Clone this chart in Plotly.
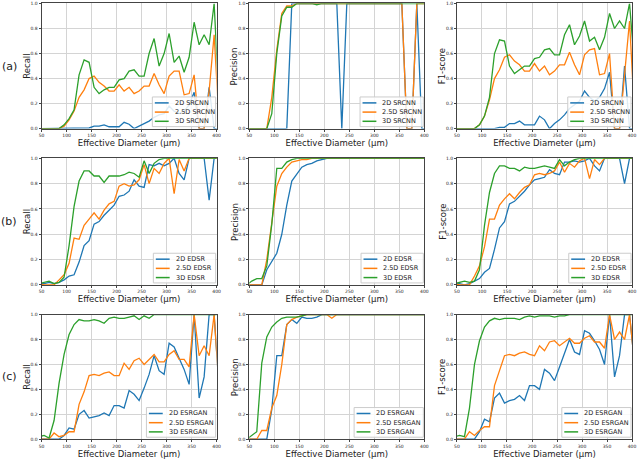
import plotly.graph_objects as go

# bin centres (um)
diam = [45, 55, 65, 75, 85, 95, 105, 115, 125, 135, 145, 155, 165, 175, 185, 195, 205, 215, 225,
        235, 245, 255, 265, 275, 285, 295, 305, 315, 325, 335, 345, 355, 365, 375, 385, 395, 405]

models = ["SRCNN", "EDSR", "ESRGAN"]
metrics = ["Recall", "Precision", "F1-score"]
dims = ["2D", "2.5D", "3D"]
row_tags = ["(a)", "(b)", "(c)"]

# ---- SRCNN
srcnn_recall_2d = [0, 0, 0, 0, 0, 0, 0, 0, 0, 0.005, 0.005, 0.02, 0.02, 0.03, 0.015, 0.015, 0.015, 0.05, 0.035,
                   0.0, 0.02, 0.035, 0.06, 0.09, 0.11, 0.12, 0.18, 0.14, 0.12, 0.14, 0.19, 0.29, 0.0, 0.0, 0.33, 0.0, 0.0]
srcnn_recall_25d = [0, 0, 0, 0, 0, 0.02, 0.07, 0.14, 0.25, 0.31, 0.40, 0.42, 0.37, 0.34, 0.30, 0.30, 0.35, 0.30, 0.33,
                    0.28, 0.30, 0.34, 0.34, 0.44, 0.35, 0.28, 0.42, 0.46, 0.46, 0.27, 0.28, 0.43, 0.0, 0.0, 0.3, 0.75, 0.05]
srcnn_recall_3d = [0, 0, 0, 0, 0, 0.03, 0.08, 0.15, 0.43, 0.55, 0.53, 0.33, 0.28, 0.31, 0.33, 0.33, 0.39, 0.40, 0.46,
                   0.47, 0.42, 0.42, 0.60, 0.72, 0.50, 0.60, 0.76, 0.53, 0.58, 0.45, 0.57, 0.85, 0.67, 0.75, 0.67, 1.0, 0.2]

srcnn_prec_2d = [0, 0, 0, 0, 0, 0, 0, 0, 0, 1, 1, 1, 1, 1, 1, 1, 1, 1, 1,
                 0, 1, 1, 1, 1, 1, 1, 1, 1, 1, 1, 1, 1, 0, 0, 1, 0, 0]
srcnn_prec_25d = [0, 0, 0, 0, 0, 0.25, 0.63, 0.92, 0.98, 0.98, 1, 1, 1, 1, 1, 1, 1, 1, 1,
                  1, 1, 1, 1, 1, 1, 1, 1, 1, 1, 1, 1, 1, 0, 0, 1, 1, 1]
srcnn_prec_3d = [0, 0, 0, 0, 0, 0.12, 0.6, 0.9, 0.97, 0.97, 1, 1, 1, 1, 0.99, 1, 1, 1, 1,
                 1, 1, 1, 1, 1, 1, 1, 1, 1, 1, 1, 1, 1, 1, 1, 1, 1, 1]

srcnn_f1_2d = [0, 0, 0, 0, 0, 0, 0, 0, 0, 0.01, 0.01, 0.04, 0.04, 0.06, 0.03, 0.03, 0.03, 0.10, 0.07,
               0.0, 0.04, 0.07, 0.11, 0.16, 0.19, 0.22, 0.30, 0.25, 0.22, 0.25, 0.32, 0.45, 0.0, 0.0, 0.5, 0.0, 0.0]
srcnn_f1_25d = [0, 0, 0, 0, 0, 0.03, 0.1, 0.23, 0.40, 0.47, 0.57, 0.59, 0.54, 0.51, 0.46, 0.46, 0.52, 0.46, 0.50,
                0.43, 0.46, 0.51, 0.51, 0.61, 0.51, 0.43, 0.59, 0.63, 0.64, 0.43, 0.44, 0.60, 0.0, 0.0, 0.46, 0.86, 0.1]
srcnn_f1_3d = [0, 0, 0, 0, 0, 0.03, 0.1, 0.25, 0.6, 0.71, 0.70, 0.50, 0.44, 0.47, 0.50, 0.50, 0.56, 0.57, 0.63,
               0.64, 0.59, 0.59, 0.75, 0.83, 0.67, 0.74, 0.86, 0.70, 0.73, 0.63, 0.73, 0.92, 0.80, 0.86, 0.80, 1.0, 0.5]

# ---- EDSR
edsr_recall_2d = [0.01, 0.01, 0.02, 0.01, 0.02, 0.04, 0.07, 0.08, 0.18, 0.31, 0.35, 0.48, 0.5, 0.55, 0.59, 0.63, 0.70, 0.71, 0.74,
                  0.83, 0.78, 0.77, 0.95, 0.94, 0.96, 0.94, 0.96, 1.0, 0.88, 0.83, 1, 1, 1, 1, 0.67, 1, 1]
edsr_recall_25d = [0.01, 0.0, 0.0, 0.0, 0.04, 0.08, 0.17, 0.37, 0.36, 0.47, 0.52, 0.57, 0.52, 0.59, 0.64, 0.66, 0.78, 0.80, 0.78,
                   0.79, 0.83, 0.95, 0.80, 0.92, 0.88, 0.96, 1.0, 0.72, 0.99, 0.9, 1, 1, 1, 1, 1, 1, 1]
edsr_recall_3d = [0.01, 0.02, 0.03, 0.01, 0.02, 0.06, 0.31, 0.62, 0.82, 0.9, 0.9, 0.86, 0.86, 0.81, 0.86, 0.86, 0.86, 0.87, 0.89,
                  0.88, 0.85, 0.98, 0.88, 0.96, 0.99, 1, 1, 1, 1, 1, 1, 1, 1, 1, 1, 1, 1]

edsr_prec_2d = [0, 0, 0, 0, 0.12, 0.18, 0.25, 0.4, 0.63, 0.82, 0.88, 0.93, 0.95, 0.96, 0.98, 0.99, 1, 1, 1,
                1, 1, 1, 1, 1, 1, 1, 1, 1, 1, 1, 1, 1, 1, 1, 1, 1, 1]
edsr_prec_25d = [0, 0, 0, 0, 0.2, 0.5, 0.78, 0.88, 0.93, 0.97, 0.98, 0.99, 0.99, 1, 1, 1, 1, 1, 1,
                 1, 1, 1, 1, 1, 1, 1, 1, 1, 1, 1, 1, 1, 1, 1, 1, 1, 1]
edsr_prec_3d = [0.0, 0.03, 0.05, 0.05, 0.15, 0.48, 0.92, 0.92, 0.97, 0.99, 1, 1, 1, 1, 1, 1, 1, 1, 1,
                1, 1, 1, 1, 1, 1, 1, 1, 1, 1, 1, 1, 1, 1, 1, 1, 1, 1]

edsr_f1_2d = [0.01, 0.01, 0.0, 0.01, 0.03, 0.05, 0.1, 0.13, 0.28, 0.45, 0.5, 0.64, 0.66, 0.7, 0.74, 0.79, 0.83, 0.84, 0.85,
              0.91, 0.88, 0.87, 0.97, 0.97, 0.98, 0.97, 0.98, 1.0, 0.94, 0.9, 1, 1, 1, 1, 0.8, 1, 1]
edsr_f1_25d = [0.01, 0.0, 0.0, 0.0, 0.07, 0.15, 0.3, 0.52, 0.52, 0.63, 0.68, 0.72, 0.68, 0.73, 0.77, 0.79, 0.87, 0.88, 0.87,
               0.88, 0.9, 0.97, 0.89, 0.96, 0.93, 0.98, 1.0, 0.84, 0.99, 0.95, 1, 1, 1, 1, 1, 1, 1]
edsr_f1_3d = [0.01, 0.02, 0.03, 0.02, 0.03, 0.12, 0.47, 0.73, 0.88, 0.94, 0.94, 0.92, 0.92, 0.9, 0.93, 0.92, 0.92, 0.93, 0.94,
              0.93, 0.92, 0.99, 0.94, 0.97, 0.99, 1, 1, 1, 1, 1, 1, 1, 1, 1, 1, 1, 1]

# ---- ESRGAN
esrgan_recall_2d = [0, 0, 0, 0, 0, 0.03, 0.09, 0.08, 0.2, 0.23, 0.17, 0.18, 0.19, 0.21, 0.19, 0.27, 0.27, 0.25, 0.39,
                    0.36, 0.31, 0.41, 0.52, 0.67, 0.55, 0.52, 0.77, 0.74, 0.65, 0.56, 0.44, 1.0, 0.33, 0.5, 1.0, 1.0, 0.4]
esrgan_recall_25d = [0, 0, 0, 0.05, 0.02, 0.03, 0.06, 0.06, 0.28, 0.38, 0.51, 0.52, 0.51, 0.53, 0.54, 0.51, 0.51, 0.61, 0.56,
                     0.63, 0.65, 0.6, 0.64, 0.68, 0.62, 0.62, 0.68, 0.71, 0.64, 0.64, 0.58, 1.0, 0.67, 0.75, 0.67, 1.0, 0.4]
esrgan_recall_3d = [0.02, 0.03, 0.01, 0.15, 0.45, 0.68, 0.84, 0.92, 0.96, 0.95, 0.95, 0.96, 0.95, 0.93, 0.97, 0.98, 0.97, 0.97, 0.98,
                    0.99, 0.96, 0.99, 0.97, 1, 1, 1, 1, 1, 1, 1, 1, 1, 1, 1, 1, 1, 1]

esrgan_prec_2d = [0, 0, 0, 0, 0, 0.24, 0.67, 0.67, 0.92, 0.96, 0.93, 0.98, 0.97, 0.97, 0.98, 1, 1, 1, 1,
                  1, 1, 1, 1, 1, 1, 1, 1, 1, 1, 1, 1, 1, 1, 1, 1, 1, 1]
esrgan_prec_25d = [0, 0, 0, 0.07, 0.07, 0.25, 0.35, 0.6, 0.92, 0.96, 0.98, 0.99, 1, 1, 1, 1, 1, 0.97, 1,
                   1, 1, 1, 1, 1, 1, 1, 1, 1, 1, 1, 1, 1, 1, 1, 1, 1, 1]
esrgan_prec_3d = [0.0, 0.03, 0.06, 0.61, 0.82, 0.9, 0.94, 0.97, 0.98, 0.98, 0.98, 0.99, 1, 1, 1, 1, 1, 1, 1,
                  1, 1, 1, 1, 1, 1, 1, 1, 1, 1, 1, 1, 1, 1, 1, 1, 1, 1]

esrgan_f1_2d = [0, 0, 0, 0, 0, 0.06, 0.16, 0.14, 0.33, 0.37, 0.29, 0.31, 0.32, 0.35, 0.31, 0.43, 0.43, 0.4, 0.56,
                0.53, 0.47, 0.58, 0.69, 0.8, 0.7, 0.68, 0.87, 0.85, 0.79, 0.72, 0.6, 1.0, 0.5, 0.67, 1.0, 1.0, 0.6]
esrgan_f1_25d = [0, 0, 0, 0.06, 0.03, 0.07, 0.1, 0.1, 0.43, 0.55, 0.67, 0.68, 0.67, 0.69, 0.7, 0.68, 0.67, 0.75, 0.71,
                 0.78, 0.79, 0.75, 0.78, 0.81, 0.77, 0.77, 0.81, 0.83, 0.78, 0.78, 0.73, 1.0, 0.8, 0.86, 0.8, 1.0, 0.6]
esrgan_f1_3d = [0.02, 0.03, 0.02, 0.25, 0.6, 0.79, 0.9, 0.95, 0.97, 0.96, 0.97, 0.97, 0.97, 0.96, 0.98, 0.99, 0.98, 0.99, 0.99,
                0.99, 0.98, 0.99, 0.99, 1, 1, 1, 1, 1, 1, 1, 1, 1, 1, 1, 1, 1, 1]

data = {
    "SRCNN": [[srcnn_recall_2d, srcnn_recall_25d, srcnn_recall_3d],
              [srcnn_prec_2d, srcnn_prec_25d, srcnn_prec_3d],
              [srcnn_f1_2d, srcnn_f1_25d, srcnn_f1_3d]],
    "EDSR": [[edsr_recall_2d, edsr_recall_25d, edsr_recall_3d],
             [edsr_prec_2d, edsr_prec_25d, edsr_prec_3d],
             [edsr_f1_2d, edsr_f1_25d, edsr_f1_3d]],
    "ESRGAN": [[esrgan_recall_2d, esrgan_recall_25d, esrgan_recall_3d],
               [esrgan_prec_2d, esrgan_prec_25d, esrgan_prec_3d],
               [esrgan_f1_2d, esrgan_f1_25d, esrgan_f1_3d]],
}

colors = ["#1f77b4", "#ff7f0e", "#2ca02c"]
W, H = 640, 461
col_px = [(39, 216), (249, 426), (459, 636)]
row_px = [(1.5, 128), (158, 286), (316, 442)]
legend_w = {"SRCNN": 64, "EDSR": 63, "ESRGAN": 70}
FONT = "DejaVu Sans"


def px(xp, yp):
    return xp / W, 1 - yp / H


fig = go.Figure()
layout = {}
shapes = []
annots = []
for r, model in enumerate(models):
    for c, metric in enumerate(metrics):
        n = r * 3 + c + 1
        sfx = "" if n == 1 else str(n)
        for k, d in enumerate(dims):
            fig.add_trace(go.Scatter(
                x=diam, y=data[model][c][k], mode="lines",
                line=dict(color=colors[k], width=1.3),
                name=d + " " + model, xaxis="x" + sfx, yaxis="y" + sfx,
                showlegend=False))
        x0, x1 = col_px[c]
        y0, y1 = row_px[r]
        layout["xaxis" + sfx] = dict(
            domain=[x0 / W, x1 / W], anchor="y" + sfx, range=[50, 400],
            tickvals=[50, 100, 150, 200, 250, 300, 350, 400],
            tickfont=dict(size=4.5, color="#222"), ticks="outside", ticklen=2,
            tickcolor="#444", showgrid=True, gridcolor="#d4d4d4", gridwidth=1,
            showline=True, linecolor="#444", linewidth=1, mirror=True, zeroline=False,
            title=dict(text="Effective Diameter (\u03bcm)", font=dict(size=8.5, color="#222"), standoff=2))
        layout["yaxis" + sfx] = dict(
            domain=[1 - y1 / H, 1 - y0 / H], anchor="x" + sfx, range=[0, 1],
            tickvals=[0, 0.2, 0.4, 0.6, 0.8, 1.0], tickformat=".1f",
            tickfont=dict(size=4.5, color="#222"), ticks="outside", ticklen=2,
            tickcolor="#444", showgrid=True, gridcolor="#d4d4d4", gridwidth=1,
            showline=True, linecolor="#444", linewidth=1, mirror=True, zeroline=False)

        # y title placed by hand (plotly pushes it too far left)
        tx, ty = px(x0 - 15, (y0 + y1) / 2)
        annots.append(dict(text=metric, x=tx, y=ty, xref="paper", yref="paper", textangle=-90,
                           xanchor="center", yanchor="middle", showarrow=False,
                           font=dict(size=8.5, color="#222", family=FONT)))

        # compact matplotlib-style legend, lower right
        lr = x1 - 1
        lb = y1 - 2
        lt = lb - 30
        ll = lr - legend_w[model]
        ax0, ay0 = px(ll, lt)
        ax1, ay1 = px(lr, lb)
        shapes.append(dict(type="rect", xref="paper", yref="paper", x0=ax0, x1=ax1, y0=ay1, y1=ay0,
                           fillcolor="rgba(255,255,255,0.85)", line=dict(color="#cccccc", width=1),
                           layer="above"))
        for k, d in enumerate(dims):
            yy = lt + 6 + k * 9.3
            sx0, sy = px(ll + 2.5, yy)
            sx1, _ = px(ll + 16.5, yy)
            shapes.append(dict(type="line", xref="paper", yref="paper", x0=sx0, x1=sx1, y0=sy, y1=sy,
                               line=dict(color=colors[k], width=1.5), layer="above"))
            lx, _ = px(ll + 20.5, yy)
            annots.append(dict(text=d + " " + model, x=lx, y=sy, xref="paper", yref="paper",
                               xanchor="left", yanchor="middle", showarrow=False,
                               font=dict(size=6.5, color="#222", family=FONT)))

for r, tag in enumerate(row_tags):
    y0, y1 = row_px[r]
    ax, ay = px(6.5, (y0 + y1) / 2)
    annots.append(dict(text=tag, x=ax, y=ay, xref="paper", yref="paper", showarrow=False,
                       xanchor="center", yanchor="middle",
                       font=dict(size=11, color="#222", family=FONT)))

fig.update_layout(**layout)
fig.update_layout(width=W, height=H, margin=dict(l=0, r=0, t=0, b=0),
                  plot_bgcolor="white", paper_bgcolor="white",
                  font=dict(family=FONT), showlegend=False,
                  shapes=shapes, annotations=annots)
fig.write_html("out.html", config={"displayModeBar": False},
               post_script="document.body.style.margin='0px';document.body.style.overflow='hidden';")
